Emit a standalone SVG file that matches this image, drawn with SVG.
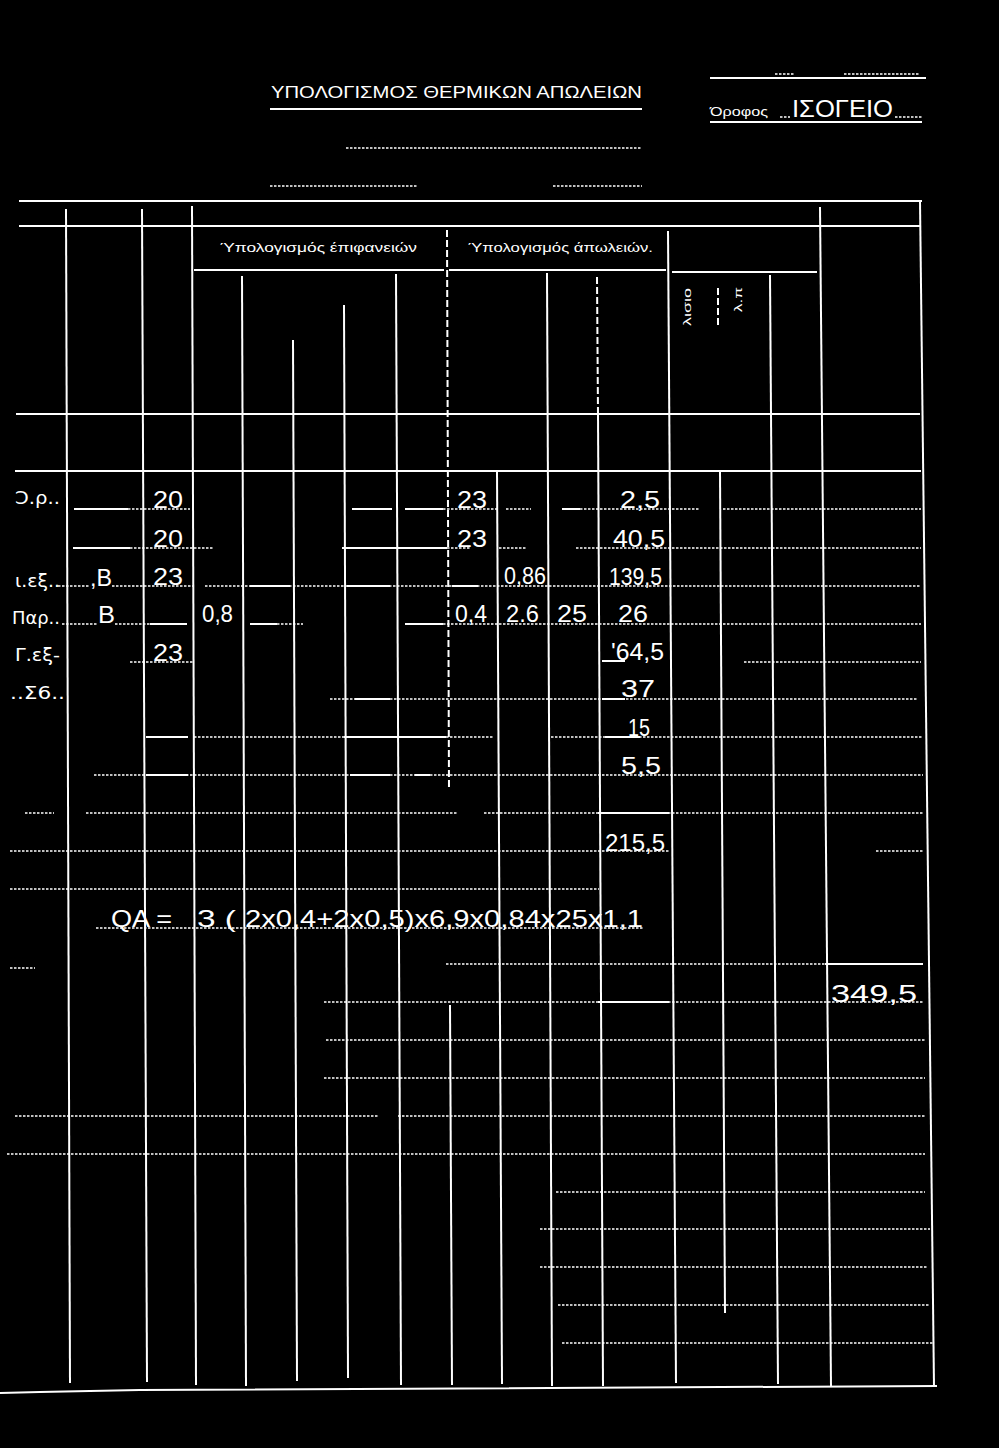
<svg xmlns="http://www.w3.org/2000/svg" width="999" height="1448" viewBox="0 0 999 1448">
<style>
.s{stroke:#fff;stroke-width:2;fill:none}
.dv{stroke:#fff;stroke-width:2;stroke-dasharray:7 3;fill:none}
.d{stroke:#fff;stroke-width:1.6;stroke-dasharray:2.5 1.5;fill:none}
.h{fill:#fff;font-family:"Liberation Sans",sans-serif;font-size:24px}
.l{fill:#fff;font-family:"DejaVu Sans",sans-serif;font-size:17px}
.p{fill:#fff;font-family:"Liberation Sans",sans-serif}
</style>
<rect width="999" height="1448" fill="#000"/>
<g id="heading">
<text class="p" x="271" y="98" font-size="17" textLength="371" lengthAdjust="spacingAndGlyphs">ΥΠΟΛΟΓΙΣΜΟΣ ΘΕΡΜΙΚΩΝ ΑΠΩΛΕΙΩΝ</text>
<line class="s" x1="270" y1="109" x2="642" y2="109" stroke-width="2.5"/>
<line class="s" x1="710" y1="78" x2="926" y2="78"/>
<line class="d" x1="775" y1="74" x2="795" y2="74"/>
<line class="d" x1="844" y1="74" x2="920" y2="74"/>
<text class="p" x="710" y="116" font-size="12" textLength="58" lengthAdjust="spacingAndGlyphs">Όροφος</text>
<line class="d" x1="780" y1="117" x2="790" y2="117"/>
<text class="h" x="792" y="117" font-size="20" textLength="101" lengthAdjust="spacingAndGlyphs">ΙΣΟΓΕΙΟ</text>
<line class="d" x1="895" y1="117" x2="922" y2="117"/>
<line class="s" x1="710" y1="122" x2="922" y2="122"/>
<line class="d" x1="346" y1="148" x2="642" y2="148"/>
<line class="d" x1="270" y1="186" x2="417" y2="186"/>
<line class="d" x1="553" y1="186" x2="642" y2="186"/>
</g>
<g id="frame">
<line class="s" x1="19" y1="201" x2="922" y2="201"/>
<line class="s" x1="19" y1="226" x2="920" y2="226"/>
<line class="s" x1="194" y1="270" x2="444" y2="270"/>
<line class="s" x1="449" y1="270" x2="666" y2="270"/>
<line class="s" x1="672" y1="272" x2="817" y2="272"/>
<line class="s" x1="16" y1="414" x2="920" y2="414"/>
<line class="s" x1="15" y1="471" x2="921" y2="471"/>
<polyline class="s" points="0,1393 40,1392 140,1390 937,1386" stroke-width="2.5"/>
<line class="s" x1="66" y1="209" x2="70" y2="1383"/>
<line class="s" x1="142" y1="209" x2="147" y2="1382"/>
<line class="s" x1="192" y1="206" x2="196" y2="1385"/>
<line class="s" x1="242" y1="276" x2="246" y2="1386"/>
<line class="s" x1="293" y1="340" x2="297" y2="1381"/>
<line class="s" x1="344" y1="305" x2="348" y2="1378"/>
<line class="s" x1="396" y1="274" x2="401" y2="1385"/>
<line class="dv" x1="447" y1="230" x2="449" y2="790"/>
<line class="s" x1="450" y1="1005" x2="452" y2="1385"/>
<line class="s" x1="497" y1="471" x2="502" y2="1384"/>
<line class="s" x1="547" y1="273" x2="552" y2="1386"/>
<line class="dv" x1="597" y1="277" x2="598" y2="414"/>
<line class="s" x1="598" y1="414" x2="603" y2="1386"/>
<line class="s" x1="668" y1="231" x2="676" y2="1383"/>
<line class="dv" x1="718" y1="288" x2="718" y2="328" stroke-dasharray="5 2"/>
<line class="s" x1="720" y1="471" x2="725" y2="1313"/>
<line class="s" x1="770" y1="275" x2="778" y2="1384"/>
<line class="s" x1="820" y1="207" x2="831" y2="1386"/>
<line class="s" x1="920" y1="201" x2="934" y2="1386"/>
</g>
<g id="header-labels">
<text class="p" x="220" y="252" font-size="12" textLength="197" lengthAdjust="spacingAndGlyphs">Ύπολογισμός έπιφανειών</text>
<text class="p" x="468" y="252" font-size="12" textLength="185" lengthAdjust="spacingAndGlyphs">Ύπολογισμός άπωλειών.</text>
<text class="p" font-size="11" transform="translate(691,326) rotate(-90)" textLength="38" lengthAdjust="spacingAndGlyphs">λισιο</text>
<text class="p" font-size="11" transform="translate(742,312) rotate(-90)" textLength="25" lengthAdjust="spacingAndGlyphs">λ.π</text>
</g>
<g id="rows">
<!-- row 1 -->
<line class="s" x1="74" y1="509" x2="128" y2="509"/>
<line class="d" x1="128" y1="509" x2="190" y2="509"/>
<line class="s" x1="352" y1="509" x2="392" y2="509"/>
<line class="s" x1="405" y1="509" x2="443" y2="509"/>
<line class="d" x1="443" y1="509" x2="497" y2="509"/>
<line class="d" x1="506" y1="509" x2="531" y2="509"/>
<line class="s" x1="562" y1="509" x2="580" y2="509"/>
<line class="d" x1="580" y1="509" x2="699" y2="509"/>
<line class="d" x1="723" y1="509" x2="921" y2="509"/>
<!-- row 2 -->
<line class="s" x1="73" y1="548" x2="130" y2="548"/>
<line class="d" x1="130" y1="548" x2="213" y2="548"/>
<line class="s" x1="342" y1="548" x2="447" y2="548"/>
<line class="d" x1="447" y1="548" x2="470" y2="548"/>
<line class="d" x1="499" y1="548" x2="527" y2="548"/>
<line class="d" x1="576" y1="548" x2="921" y2="548"/>
<!-- row 3 -->
<line class="d" x1="58" y1="586" x2="90" y2="586"/>
<line class="d" x1="112" y1="586" x2="193" y2="586"/>
<line class="d" x1="205" y1="586" x2="921" y2="586"/>
<line class="s" x1="250" y1="586" x2="290" y2="586"/>
<line class="s" x1="347" y1="586" x2="390" y2="586"/>
<line class="s" x1="452" y1="586" x2="478" y2="586"/>
<!-- row 4 -->
<line class="d" x1="62" y1="624" x2="98" y2="624"/>
<line class="d" x1="115" y1="624" x2="150" y2="624"/>
<line class="s" x1="150" y1="624" x2="187" y2="624"/>
<line class="s" x1="250" y1="624" x2="277" y2="624"/>
<line class="d" x1="277" y1="624" x2="303" y2="624"/>
<line class="s" x1="405" y1="624" x2="443" y2="624"/>
<line class="d" x1="443" y1="624" x2="921" y2="624"/>
<!-- row 5 -->
<line class="d" x1="130" y1="662" x2="193" y2="662"/>
<line class="s" x1="602" y1="661" x2="625" y2="661"/>
<line class="d" x1="744" y1="662" x2="921" y2="662"/>
<!-- row 6 -->
<line class="d" x1="330" y1="699" x2="917" y2="699"/>
<line class="s" x1="355" y1="699" x2="390" y2="699"/>
<line class="s" x1="602" y1="699" x2="625" y2="699"/>
<!-- row 7 -->
<line class="s" x1="146" y1="737" x2="188" y2="737"/>
<line class="d" x1="194" y1="737" x2="494" y2="737"/>
<line class="s" x1="344" y1="737" x2="446" y2="737"/>
<line class="d" x1="551" y1="737" x2="922" y2="737"/>
<line class="s" x1="605" y1="737" x2="640" y2="737"/>
<!-- row 8 -->
<line class="d" x1="94" y1="775" x2="923" y2="775"/>
<line class="s" x1="146" y1="775" x2="188" y2="775"/>
<line class="s" x1="350" y1="775" x2="390" y2="775"/>
<line class="s" x1="415" y1="775" x2="430" y2="775"/>
<!-- row 9 -->
<line class="d" x1="25" y1="813" x2="54" y2="813"/>
<line class="d" x1="86" y1="813" x2="457" y2="813"/>
<line class="d" x1="484" y1="813" x2="923" y2="813"/>
<line class="s" x1="598" y1="813" x2="669" y2="813"/>
<!-- row 10 -->
<line class="d" x1="10" y1="851" x2="669" y2="851"/>
<line class="d" x1="876" y1="851" x2="923" y2="851"/>
<!-- row 11 -->
<line class="d" x1="10" y1="889" x2="599" y2="889"/>
<!-- formula row -->
<line class="d" x1="96" y1="928" x2="643" y2="928"/>
<line class="d" x1="10" y1="968" x2="35" y2="968"/>
<line class="d" x1="446" y1="964" x2="923" y2="964"/>
<line class="s" x1="825" y1="964" x2="923" y2="964"/>
<line class="d" x1="324" y1="1002" x2="923" y2="1002"/>
<line class="s" x1="598" y1="1002" x2="669" y2="1002"/>
<line class="d" x1="326" y1="1040" x2="925" y2="1040"/>
<line class="d" x1="324" y1="1078" x2="925" y2="1078"/>
<line class="d" x1="15" y1="1116" x2="378" y2="1116"/>
<line class="d" x1="398" y1="1116" x2="925" y2="1116"/>
<line class="d" x1="7" y1="1154" x2="925" y2="1154"/>
<line class="d" x1="556" y1="1192" x2="925" y2="1192"/>
<line class="d" x1="540" y1="1229" x2="930" y2="1229"/>
<line class="d" x1="540" y1="1267" x2="928" y2="1267"/>
<line class="d" x1="558" y1="1305" x2="930" y2="1305"/>
<line class="d" x1="562" y1="1343" x2="933" y2="1343"/>
</g>
<g id="entries">
<text class="l" x="15" y="504" textLength="45" lengthAdjust="spacingAndGlyphs">Ͻ.ρ..</text>
<text class="l" x="15" y="587" textLength="45" lengthAdjust="spacingAndGlyphs">ι.εξ..</text>
<text class="l" x="12" y="624" textLength="48" lengthAdjust="spacingAndGlyphs">Παρ..</text>
<text class="l" x="15" y="661" textLength="45" lengthAdjust="spacingAndGlyphs">Γ.εξ-</text>
<text class="l" x="10" y="699" textLength="55" lengthAdjust="spacingAndGlyphs">..Σ6..</text>
<text class="h" x="153" y="508" textLength="30" lengthAdjust="spacingAndGlyphs">20</text>
<text class="h" x="457" y="508" textLength="30" lengthAdjust="spacingAndGlyphs">23</text>
<text class="h" x="620" y="508" textLength="40" lengthAdjust="spacingAndGlyphs">2,5</text>
<text class="h" x="153" y="547" textLength="30" lengthAdjust="spacingAndGlyphs">20</text>
<text class="h" x="457" y="547" textLength="30" lengthAdjust="spacingAndGlyphs">23</text>
<text class="h" x="613" y="547" textLength="52" lengthAdjust="spacingAndGlyphs">40,5</text>
<text class="h" x="90" y="586" textLength="22" lengthAdjust="spacingAndGlyphs">,B</text>
<text class="h" x="153" y="585" textLength="30" lengthAdjust="spacingAndGlyphs">23</text>
<text class="h" x="504" y="584" font-size="20" textLength="42" lengthAdjust="spacingAndGlyphs">0,86</text>
<text class="h" x="609" y="585" textLength="53" lengthAdjust="spacingAndGlyphs">139,5</text>
<text class="h" x="98" y="623" textLength="17" lengthAdjust="spacingAndGlyphs">B</text>
<text class="h" x="202" y="622" textLength="31" lengthAdjust="spacingAndGlyphs">0,8</text>
<text class="h" x="455" y="622" textLength="32" lengthAdjust="spacingAndGlyphs">0,4</text>
<text class="h" x="506" y="622" textLength="33" lengthAdjust="spacingAndGlyphs">2.6</text>
<text class="h" x="557" y="622" textLength="30" lengthAdjust="spacingAndGlyphs">25</text>
<text class="h" x="618" y="622" textLength="30" lengthAdjust="spacingAndGlyphs">26</text>
<text class="h" x="153" y="661" textLength="30" lengthAdjust="spacingAndGlyphs">23</text>
<text class="h" x="611" y="660" textLength="53" lengthAdjust="spacingAndGlyphs">'64,5</text>
<text class="h" x="621" y="697" textLength="34" lengthAdjust="spacingAndGlyphs">37</text>
<text class="h" x="628" y="736" textLength="22" lengthAdjust="spacingAndGlyphs">15</text>
<text class="h" x="621" y="774" textLength="40" lengthAdjust="spacingAndGlyphs">5,5</text>
<text class="h" x="605" y="851" textLength="60" lengthAdjust="spacingAndGlyphs">215,5</text>
<text class="h" x="111" y="927" textLength="61" lengthAdjust="spacingAndGlyphs">QA =</text>
<text class="h" x="197" y="927" textLength="39" lengthAdjust="spacingAndGlyphs">3 (</text>
<text class="h" x="245" y="927" textLength="398" lengthAdjust="spacingAndGlyphs">2x0,4+2x0,5)x6,9x0,84x25x1,1</text>
<text class="h" x="831" y="1002" textLength="86" lengthAdjust="spacingAndGlyphs">349,5</text>
</g>
</svg>
